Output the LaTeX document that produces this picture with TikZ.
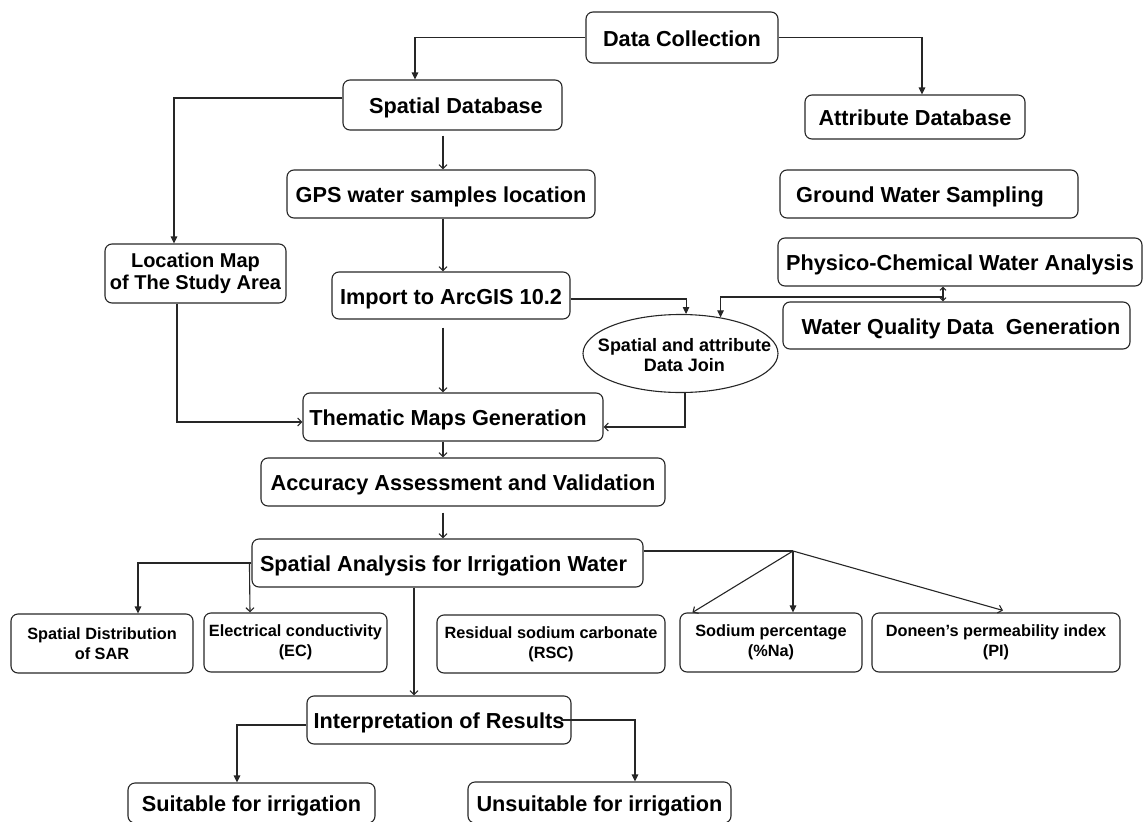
\documentclass[tikz,border=0pt]{standalone}
\usepackage{fontspec}
\setmainfont{Liberation Sans}
\usetikzlibrary{arrows.meta,calc,shapes.geometric}
\begin{document}
\begin{tikzpicture}[x=1pt,y=-1pt,
  line width=1.1pt, draw=black!85,
  wh/.style 2 args={minimum width=#1pt, minimum height=#2pt},
  box/.style={draw=black!85, rounded corners=7pt, line width=1.1pt, inner sep=0pt, align=center,
     font=\bfseries\fontsize{21.7}{26}\selectfont},
  sl/.style={box, text height=21pt, text depth=4pt},
  mbox/.style={box, font=\bfseries\fontsize{20}{22}\selectfont},
  sbox/.style={box, font=\bfseries\fontsize{16.3}{20}\selectfont},
  farr/.style={-{Triangle[length=7pt,width=6.5pt]}},
  oarr/.style={-{Straight Barb[length=4pt,width=8pt,line width=1.1pt]}},
  darr/.style={{Straight Barb[length=3pt,width=6pt]}-{Straight Barb[length=3pt,width=6pt]}}
]
\useasboundingbox (0,0) rectangle (1144,822);

% nodes
\node[sl, wh={192}{51}] (dc)  at (682,37.5) {Data Collection};
\node[sl, wh={219}{50}] (sdb) at (452.5,105) {\hspace{7pt}Spatial Database};
\node[sl, wh={220}{44}] (adb) at (915,117) {Attribute Database};
\node[sl, wh={308}{48}] (gps) at (441,194) {GPS water samples location};
\node[sl, wh={298}{48}] (gws) at (929,194) {Ground Water Sampling\hspace{18pt}};
\node[mbox, wh={181}{59}] (loc) at (195.5,273.5) {Location Map\\of The Study Area};
\node[sl, wh={238}{47}] (imp) at (451,295.5) {Import to ArcGIS 10.2};
\node[sl, wh={364}{48}] (pca) at (960,262) {Physico-Chemical Water Analysis};
\node[sl, wh={347}{47}] (wqd) at (956.5,325.5) {\hspace{9pt}Water Quality Data\ \ Generation};
\node[draw=black!85, ellipse, line width=1.1pt, wh={195}{78}, inner sep=0pt] (join) at (680.5,353.5) {};
\node[font=\bfseries\fontsize{18}{20}\selectfont, align=center, inner sep=0pt] (jointxt) at (684.5,355) {Spatial and attribute\\Data Join};
\node[sl, wh={300}{48}] (thm) at (453,417) {Thematic Maps Generation\hspace{10pt}};
\node[sl, wh={404}{48}] (acc) at (463,482) {Accuracy Assessment and Validation};
\node[sl, wh={391}{48}] (sai) at (447.5,563) {Spatial Analysis for Irrigation Water\hspace{8pt}};
\node[sbox, wh={182}{59}] (sar) at (102,643.5) {Spatial Distribution\\of SAR};
\node[sbox, wh={183}{59}] (ec)  at (295.5,642.5) {Electrical conductivity\\(EC)};
\node[sbox, wh={228}{58}] (rsc) at (551,644) {Residual sodium carbonate\\(RSC)};
\node[sbox, wh={182}{59}] (sod) at (771,642.5) {Sodium percentage\\(\%Na)};
\node[sbox, wh={248}{59}] (pi)  at (996,642.5) {Doneen’s permeability index\\(PI)};
\node[sl, wh={264}{48}] (int) at (439,720) {Interpretation of Results};
\node[sl, wh={247}{40}] (suit) at (251.5,803) {Suitable for irrigation};
\node[sl, wh={263}{41}] (uns) at (599.5,802.5) {Unsuitable for irrigation};

\coordinate (dmid) at (943,297);
\coordinate (fan) at (793,551);

% connectors
\draw[farr] (dc.west) -| ($(sdb.north)+(-37.5,0)$);
\draw[farr] (dc.east) -| ($(adb.north)+(7,0)$);
\draw[farr] ($(sdb.west)+(0,-7)$) -| ($(loc.north)+(-21.5,0)$);
\draw[oarr] ($(sdb.south)+(-9.5,5)$) -- ($(gps.north)+(2,0)$);
\draw[oarr] ($(gps.south)+(2,0)$) -- ($(imp.north)+(-8,0)$);
\draw[oarr] ($(loc.south)+(-18.5,0)$) |- ($(thm.west)+(0,5)$);
\draw[oarr] ($(imp.south)+(-8,8)$) -- ($(thm.north)+(-10,0)$);
\draw[farr] ($(imp.east)+(0,3.5)$) -| (join.82);
\draw[darr] (pca.south -| dmid) -- (wqd.north -| dmid);
\draw[farr] (dmid) -| (join.42);
\draw[oarr] ($(join.south)+(4.5,0)$) |- ($(thm.east)+(0,10)$);
\draw[oarr] ($(thm.south)+(-10,0)$) -- ($(acc.north)+(-20,0)$);
\draw[oarr] ($(acc.south)+(-20,6)$) -- ($(sai.north)+(-4.5,0)$);
\draw[farr] (sai.west) -| ($(sar.north)+(36,0)$);
\draw[oarr] ($(sai.west)+(-2,0)$) -- ($(ec.north)+(-45.5,0)$);
\draw[oarr] ($(sai.south)+(-33.5,0)$) -- ($(int.north)+(-25,0)$);
\draw ($(sai.east)+(0,-12)$) -- (fan);
\draw[oarr] (fan) -- ($(sod.north west)+(13,0)$);
\draw[farr] (fan) -- (fan |- sod.north);
\draw[oarr] (fan) -- ($(pi.north)+(7,-2)$);
\draw[farr] ($(int.west)+(0,5)$) -| ($(suit.north)+(-14.5,0)$);
\draw[farr] ($(int.east)+(-11,0)$) -| ($(uns.north)+(35.5,0)$);
\end{tikzpicture}
\end{document}
